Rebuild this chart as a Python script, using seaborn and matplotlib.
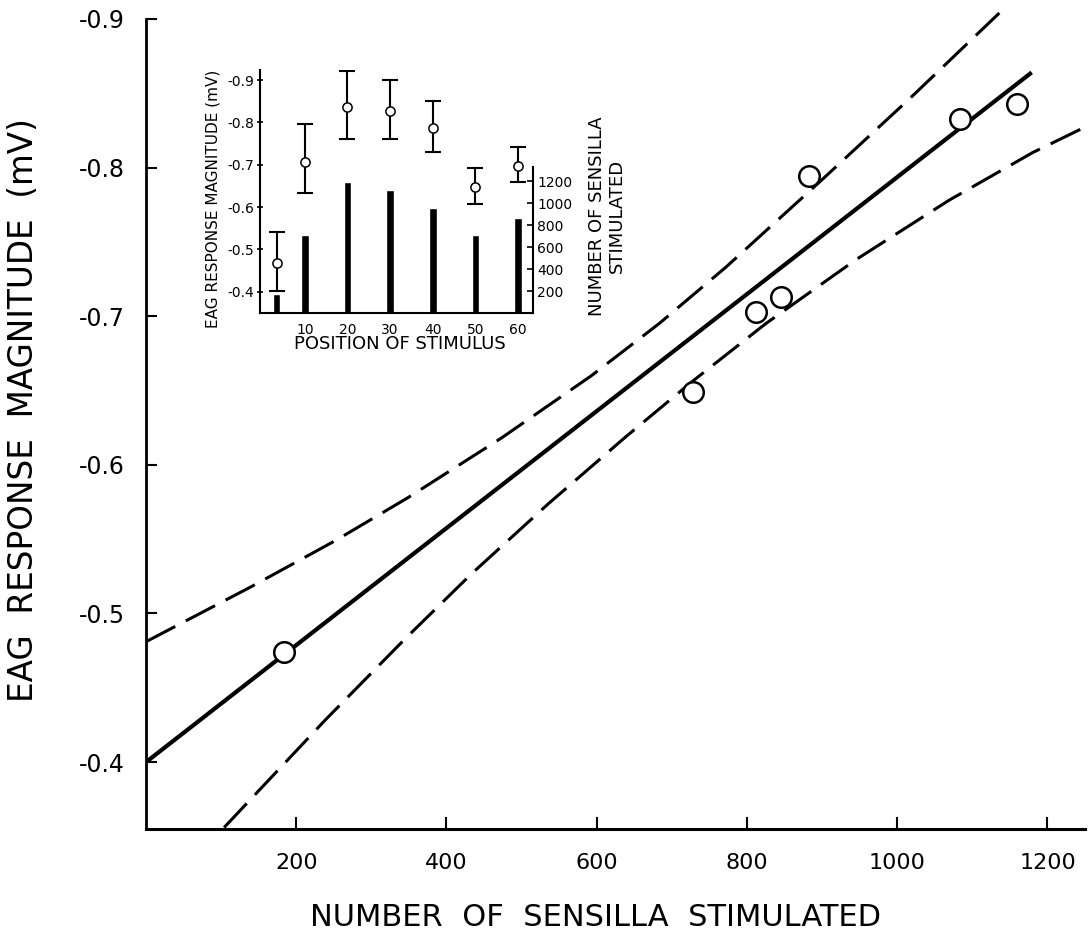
import matplotlib
matplotlib.use("Agg")
import matplotlib.pyplot as plt
import seaborn as sns

# ---- main panel: EAG response vs. number of sensilla stimulated ----
sensilla = [184, 728, 812, 845, 883, 1083, 1159]
eag_mv = [-0.474, -0.649, -0.703, -0.713, -0.794, -0.833, -0.843]

# fitted regression line (end points)
fit_x = [0, 1179]
fit_y = [-0.400, -0.864]

# confidence limits about the regression
upper_x = [0, 140, 252, 349, 473, 593, 683, 772, 896, 1020, 1136]
upper_y = [-0.481, -0.518, -0.549, -0.578, -0.618, -0.660, -0.695,
           -0.733, -0.790, -0.848, -0.904]
lower_x = [104, 238, 345, 434, 536, 639, 727, 825, 945, 1069, 1180, 1245]
lower_y = [-0.356, -0.428, -0.483, -0.527, -0.574, -0.619, -0.656,
           -0.695, -0.738, -0.778, -0.810, -0.826]

main_xticks = [200, 400, 600, 800, 1000, 1200]
main_xtick_labels = ["200", "400", "600", "800", "1000", "1200"]
main_yticks = [-0.9, -0.8, -0.7, -0.6, -0.5, -0.4]
main_ytick_labels = ["-0.9", "-0.8", "-0.7", "-0.6", "-0.5", "-0.4"]

# ---- inset: response and sensilla count by stimulus position ----
position = [3.4, 10, 20, 30, 40, 50, 60]
inset_eag = [-0.468, -0.707, -0.836, -0.827, -0.787, -0.648, -0.697]
inset_err_top = [-0.541, -0.796, -0.921, -0.900, -0.850, -0.692, -0.742]
inset_err_bottom = [-0.402, -0.633, -0.761, -0.761, -0.730, -0.607, -0.659]
inset_sensilla = [170, 706, 1191, 1115, 952, 706, 861]

inset_xticks = [10, 20, 30, 40, 50, 60]
inset_xtick_labels = ["10", "20", "30", "40", "50", "60"]
inset_yticks = [-0.9, -0.8, -0.7, -0.6, -0.5, -0.4]
inset_ytick_labels = ["-0.9", "-0.8", "-0.7", "-0.6", "-0.5", "-0.4"]
inset_rticks = [200, 400, 600, 800, 1000, 1200]
inset_rtick_labels = ["200", "400", "600", "800", "1000", "1200"]

sns.set_style("ticks")
plt.rcParams["font.family"] = ["DejaVu Sans"]
plt.rcParams.update({
    "text.color": "black",
    "axes.labelcolor": "black",
    "axes.edgecolor": "black",
    "xtick.color": "black",
    "ytick.color": "black",
})

W, H = 1092, 934
fig = plt.figure(figsize=(W / 100, H / 100), dpi=100)


def fx(px):
    return px / W


def fy(py):
    return 1 - py / H


# main axes
ax = fig.add_axes([fx(146), fy(829), fx(1085) - fx(146), fy(10) - fy(829)])
ax.set_xlim(0, 1250)
ax.set_ylim(-0.355, -0.906)

dash = (0, (10.8, 3.9))
sns.lineplot(x=upper_x, y=upper_y, ax=ax, color="black", lw=2.2,
             linestyle=dash, sort=False, estimator=None,
             dash_capstyle="butt", dash_joinstyle="round")
sns.lineplot(x=lower_x, y=lower_y, ax=ax, color="black", lw=2.2,
             linestyle=dash, sort=False, estimator=None,
             dash_capstyle="butt", dash_joinstyle="round")
sns.lineplot(x=fit_x, y=fit_y, ax=ax, color="black", lw=3.0,
             sort=False, estimator=None, solid_capstyle="butt")
sns.scatterplot(x=sensilla, y=eag_mv, ax=ax, s=219, marker="o",
                facecolor="white", edgecolor="black", linewidth=1.8,
                zorder=5, clip_on=False)

for side in ("top", "right"):
    ax.spines[side].set_visible(False)
ax.spines["left"].set_linewidth(2.0)
ax.spines["bottom"].set_linewidth(2.2)
ax.spines["left"].set_bounds(-0.355, -0.9)

ax.set_xticks(main_xticks, main_xtick_labels)
ax.set_yticks(main_yticks, main_ytick_labels)
ax.tick_params(axis="x", direction="in", length=9, width=1.5,
               labelsize=16, pad=17)
ax.tick_params(axis="y", direction="in", length=8, width=1.5,
               labelsize=17, pad=15)
ax.set_xlabel("")
ax.set_ylabel("")

fig.text(fx(595), fy(926), "NUMBER  OF  SENSILLA  STIMULATED",
         ha="center", va="baseline", fontsize=22)
fig.text(fx(24), fy(410), "EAG  RESPONSE  MAGNITUDE  (mV)",
         ha="center", va="center", rotation=90, fontsize=23.5)

# inset axes
inset_rect = [fx(260), fy(313), fx(533) - fx(260), fy(70) - fy(313)]
ax_r = fig.add_axes(inset_rect)
ax_in = fig.add_axes(inset_rect)
ax_in.set_zorder(ax_r.get_zorder() + 1)
ax_in.patch.set_visible(False)

# sensilla counts as bars on the right-hand scale
ax_r.bar(position, inset_sensilla, width=1.8, color="black")
ax_r.set_xlim(-0.5, 63.5)
ax_r.set_ylim(0, 2210)
ax_r.yaxis.tick_right()
for side in ("top", "left", "bottom"):
    ax_r.spines[side].set_visible(False)
ax_r.spines["right"].set_linewidth(1.5)
ax_r.spines["right"].set_bounds(0, 1330)
ax_r.set_xticks([])
ax_r.set_yticks(inset_rticks, inset_rtick_labels)
ax_r.tick_params(axis="y", direction="in", length=4, width=1.2,
                 labelsize=10, pad=3)

# EAG response with error bars on the left-hand scale
yerr = [[m - t for m, t in zip(inset_eag, inset_err_top)],
        [b - m for m, b in zip(inset_eag, inset_err_bottom)]]
ax_in.errorbar(position, inset_eag, yerr=yerr, fmt="none", ecolor="black",
               elinewidth=1.5, capsize=5.5, capthick=1.5, zorder=3)
sns.scatterplot(x=position, y=inset_eag, ax=ax_in, s=44, marker="o",
                facecolor="white", edgecolor="black", linewidth=1.1,
                zorder=5, clip_on=False)
ax_in.set_xlim(-0.5, 63.5)
ax_in.set_ylim(-0.35, -0.924)
for side in ("top", "right"):
    ax_in.spines[side].set_visible(False)
ax_in.spines["left"].set_linewidth(1.5)
ax_in.spines["bottom"].set_linewidth(1.5)
ax_in.set_xticks(inset_xticks, inset_xtick_labels)
ax_in.set_yticks(inset_yticks, inset_ytick_labels)
ax_in.tick_params(axis="x", length=0, labelsize=10, pad=7)
ax_in.tick_params(axis="y", direction="inout", length=5, width=1.2,
                  labelsize=10, pad=2)
ax_in.set_xlabel("")
ax_in.set_ylabel("")

fig.text(fx(400), fy(344), "POSITION OF STIMULUS", ha="center", va="center",
         fontsize=13)
fig.text(fx(213), fy(199), "EAG RESPONSE MAGNITUDE (mV)", ha="center",
         va="center", rotation=90, fontsize=11)
fig.text(fx(607), fy(216), "NUMBER OF SENSILLA\nSTIMULATED", ha="center",
         va="center", rotation=90, fontsize=13, linespacing=1.1,
         multialignment="center")

fig.savefig("out.png", dpi=100, facecolor="white")
